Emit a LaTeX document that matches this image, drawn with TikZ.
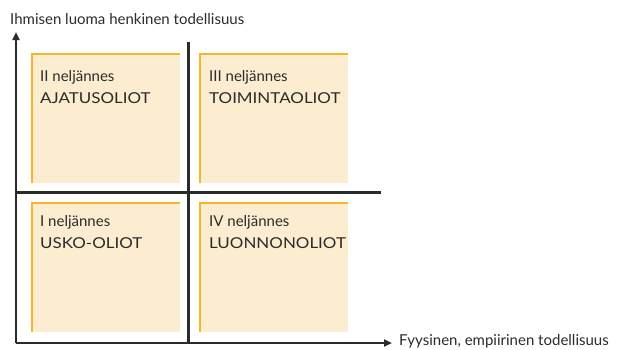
\documentclass[tikz,border=0pt]{standalone}
\usepackage{fontspec}
\setmainfont{Lato}
\newfontfamily\widecaps[FakeStretch=1.13]{Lato}
\usetikzlibrary{arrows.meta}
\definecolor{boxfill}{HTML}{FDEDD0}
\definecolor{boxedge}{HTML}{F9B52A}
\definecolor{axis}{HTML}{2B2B2B}
\begin{document}
\begin{tikzpicture}[x=1pt,y=-1pt,
  axisline/.style={draw=axis,line width=2pt},
  divider/.style={draw=axis,line width=2.6pt},
  quadbox/.style={fill=boxfill,draw=none},
  lbl/.style={anchor=base west,inner sep=0pt,font=\fontsize{15}{17}\selectfont,text=axis},
  qtxt/.style={anchor=base west,inner sep=0pt,font=\fontsize{15}{17}\selectfont,text=axis},
  qcap/.style={anchor=base west,inner sep=0pt,font=\fontsize{15}{17}\widecaps,text=axis}]
\useasboundingbox (0,0) rectangle (622,349);
% quadrant boxes with orange top and left edges
\foreach \n/\x/\y in {q2/31/53, q3/199/53, q1/31/202, q4/199/202}{
  \path[quadbox] (\x,\y) rectangle ++(149,130);
  \draw[boxedge,line width=2pt] (\x+1,\y+130) -- (\x+1,\y+1) -- (\x+149,\y+1);
}
% axes
\coordinate (o) at (16,343);
\coordinate (ytop) at (16,32);
\coordinate (xend) at (392,343);
\draw[axisline,-{Triangle[length=8pt,width=7pt]}] (o) -- (ytop);
\draw[axisline,-{Triangle[length=8pt,width=7pt]}] (o) -- (xend);
% dividing lines
\coordinate (vtop) at (188.5,42);
\coordinate (vbot) at (188.5,343);
\coordinate (hl) at (15,192.5);
\coordinate (hr) at (381,192.5);
\draw[divider] (vtop) -- (vbot);
\draw[divider] (hl) -- (hr);
% axis labels
\node[lbl] (ylab) at (10,24) {Ihmisen luoma henkinen todellisuus};
\node[lbl] (xlab) at (399,345.5) {Fyysinen, empiirinen todellisuus};
% quadrant texts
\node[qtxt] (t2a) at (40,81.5) {II neljännes};
\node[qcap] (t2b) at (40,103) {AJATUSOLIOT};
\node[qtxt] (t3a) at (209,81.5) {III neljännes};
\node[qcap] (t3b) at (209,103) {TOIMINTAOLIOT};
\node[qtxt] (t1a) at (40,226.5) {I neljännes};
\node[qcap] (t1b) at (40,248) {USKO-OLIOT};
\node[qtxt] (t4a) at (209,226.5) {IV neljännes};
\node[qcap] (t4b) at (209,248) {LUONNONOLIOT};
\end{tikzpicture}
\end{document}
